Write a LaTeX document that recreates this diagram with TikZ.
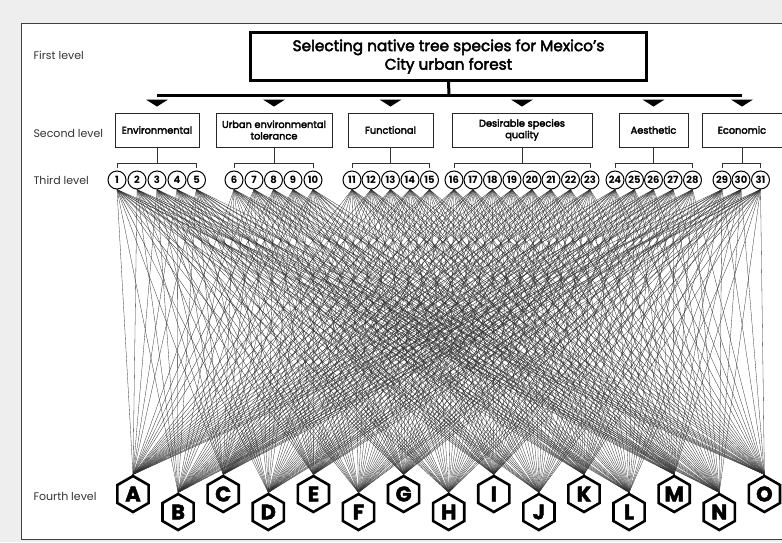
\documentclass[tikz,border=0pt]{standalone}
\usepackage{fontspec}
\setmainfont{Poppins}
\usetikzlibrary{shapes.geometric}
\pgfdeclarelayer{bg}
\pgfdeclarelayer{edges}
\pgfsetlayers{bg,edges,main}
\definecolor{pagegray}{HTML}{EEEEEE}
\definecolor{edgegray}{HTML}{2E2E2E}
\begin{document}
\begin{tikzpicture}[x=1pt,y=-1pt,
  lvl/.style={anchor=west,font=\fontsize{11}{13}\selectfont,text=black!80},
  crit/.style={draw=black!85,line width=0.9pt,fill=white,minimum height=34pt,inner sep=1pt,align=center,font=\fontsize{9.8}{11.5}\selectfont\addfontfeature{FakeBold=3}},
  num/.style={circle,draw=black,line width=1pt,fill=white,minimum size=18pt,inner sep=0pt,font=\bfseries\fontsize{10}{10}\selectfont},
  hexa/.style={regular polygon,regular polygon sides=6,shape border rotate=30,draw=black,line width=2.6pt,fill=white,minimum size=36pt,inner sep=0pt,font=\bfseries\fontsize{21}{22}\selectfont\addfontfeature{FakeBold=2}},
  edge/.style={draw=edgegray,line width=0.3pt},
  brk/.style={draw=black!80,line width=0.9pt},
  tri/.style={fill=black}]
\useasboundingbox (0,0) rectangle (782,542);
\begin{pgfonlayer}{bg}
\fill[pagegray] (0,0) rectangle (782,542);
\fill[white] (21,23) rectangle (790,539);
\draw[black!75,line width=0.8pt] (790,23) -- (21,23) -- (21,539) -- (790,539);
\end{pgfonlayer}
% labels
\node[lvl] (l1) at (30,55) {First level};
\node[lvl] (l2) at (30,133) {Second level};
\node[lvl] (l3) at (30,180) {Third level};
\node[lvl] (l4) at (30,496) {Fourth level};
% first level
\node[draw=black,line width=3pt,minimum width=396pt,minimum height=48pt,align=center,inner sep=0pt,
  font=\fontsize{15.3}{18.5}\selectfont\addfontfeature{FakeBold=3}] (top) at (448.5,56.5)
  {Selecting native tree species for Mexico’s\\City urban forest};
\coordinate (barL) at (157,95);
\coordinate (barM) at (449,95);
\coordinate (barR) at (742,95);
\draw[line width=3pt] (top.south) -- (barM);
\draw[line width=3pt] (barL) -- (barR);
% second level
\node[crit,minimum width=84pt] (g1) at (157,130) {Environmental};
\node[crit,minimum width=116pt] (g2) at (274,130) {Urban environmental\\tolerance};
\node[crit,minimum width=85pt] (g3) at (390.5,130) {Functional};
\node[crit,minimum width=140pt] (g4) at (522,130) {Desirable species\\quality};
\node[crit,minimum width=69pt] (g5) at (653.5,130) {Aesthetic};
\node[crit,minimum width=80pt] (g6) at (742,130) {Economic};
\foreach \g in {1,...,6}{
  \fill[tri] ([xshift=-11pt,yshift=13pt]g\g.north) -- ([xshift=11pt,yshift=13pt]g\g.north) -- ([yshift=6pt]g\g.north) -- cycle;
}
% third level
\foreach \x [count=\n] in {117,137,157,177,196.5, 234,254,273.5,293,313, 352,371,390.5,410,429.5, 454,473,492.5,512,532,551,570.5,590, 615,634.5,653.5,673,692.5, 722,741,760.5}{
  \node[num] (c\n) at (\x,180) {\n};
}
% brackets
\foreach \g/\a/\b in {1/1/5,2/6/10,3/11/15,4/16/23,5/24/28,6/29/31}{
  \draw[brk] (g\g.south) -- ++(0,17);
  \draw[brk] ([yshift=3pt]c\a.north) -- ++(0,-4) -| ([yshift=3pt]c\b.north) ;
}
% fourth level
\foreach \L [count=\i from 0] in {A,B,C,D,E,F,G,H,I,J,K,L,M,N,O}{
  \pgfmathsetmacro\hx{133+45.1*\i}
  \pgfmathsetmacro\hy{mod(\i,2)==0 ? 494 : 512}
  \node[hexa] (h\i) at (\hx,\hy) {\L};
}
\begin{pgfonlayer}{edges}
\foreach \n in {1,...,31}{
  \foreach \i in {0,...,14}{
    \draw[edge] (c\n.south) -- (h\i.north);
  }
}
\end{pgfonlayer}
\end{tikzpicture}
\end{document}
